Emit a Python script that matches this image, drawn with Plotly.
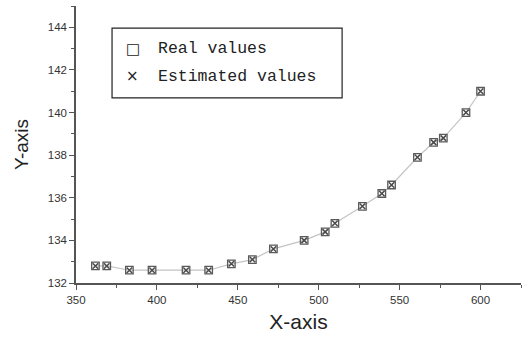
import plotly.graph_objects as go

# Measured points (X, Y)
x_vals = [362, 369, 383, 397, 418, 432, 446, 459, 472, 491, 504, 510,
          527, 539, 545, 561, 571, 577, 591, 600]
y_real = [132.8, 132.8, 132.6, 132.6, 132.6, 132.6, 132.9, 133.1, 133.6, 134.0,
          134.4, 134.8, 135.6, 136.2, 136.6, 137.9, 138.6, 138.8, 140.0, 141.0]
y_est = [132.8, 132.8, 132.6, 132.6, 132.6, 132.6, 132.9, 133.1, 133.6, 134.0,
         134.4, 134.8, 135.6, 136.2, 136.6, 137.9, 138.6, 138.8, 140.0, 141.0]

legend_labels = ["Real values", "Estimated values"]
legend_glyphs = ["\u25a1", "\u00d7"]

fig = go.Figure()

# connecting line
fig.add_trace(go.Scatter(x=x_vals, y=y_real, mode="lines",
                         line=dict(color="#c4c4c4", width=1.2),
                         showlegend=False, hoverinfo="skip"))
# real values: open squares
fig.add_trace(go.Scatter(x=x_vals, y=y_real, mode="markers", name=legend_labels[0],
                         marker=dict(symbol="square-open", size=7.5,
                                     color="#5a5a5a", line=dict(width=1.3)),
                         showlegend=False))
# estimated values: crosses
fig.add_trace(go.Scatter(x=x_vals, y=y_est, mode="markers", name=legend_labels[1],
                         marker=dict(symbol="x-thin-open", size=5.5,
                                     color="#4a4a4a", line=dict(width=1.5)),
                         showlegend=False))

axis_common = dict(showline=True, linecolor="#555555", linewidth=1.5,
                   ticks="outside", tickcolor="#555555", tickwidth=1.2, ticklen=5,
                   showgrid=False, zeroline=False, mirror=False,
                   tickfont=dict(family="Liberation Sans, Arial", size=11.5, color="#333333"))

fig.update_xaxes(range=[350, 625], dtick=50, tick0=350,
                 minor=dict(dtick=25, ticks="outside", ticklen=3, tickcolor="#555555", tickwidth=1.2),
                 title=dict(text="X-axis", font=dict(family="Liberation Sans, Arial", size=21, color="#222222"),
                            standoff=10),
                 **axis_common)
fig.update_yaxes(range=[132, 145], dtick=2, tick0=132,
                 minor=dict(dtick=1, ticks="outside", ticklen=3, tickcolor="#555555", tickwidth=1.2),
                 title=dict(text="Y-axis", font=dict(family="Liberation Sans, Arial", size=19, color="#222222"),
                            standoff=14),
                 **axis_common)

# legend box
fig.add_shape(type="rect", xref="paper", yref="paper",
              x0=0.081, x1=0.598, y0=0.668, y1=0.92,
              line=dict(color="#222222", width=1.2), fillcolor="white")
for i, (g, lab) in enumerate(zip(legend_glyphs, legend_labels)):
    yy = 0.846 - i * 0.1
    fig.add_annotation(xref="paper", yref="paper", x=0.128, y=yy, text=g,
                       showarrow=False, xanchor="center", yanchor="middle",
                       font=dict(family="DejaVu Sans", size=15, color="#222222"))
    fig.add_annotation(xref="paper", yref="paper", x=0.18, y=yy, text=lab,
                       showarrow=False, xanchor="left", yanchor="middle",
                       font=dict(family="Liberation Mono", size=16.5, color="#222222"))

fig.update_layout(width=526, height=338,
                  margin=dict(l=76, r=5, t=6, b=55),
                  plot_bgcolor="white", paper_bgcolor="white")

fig.write_html("out.html")
